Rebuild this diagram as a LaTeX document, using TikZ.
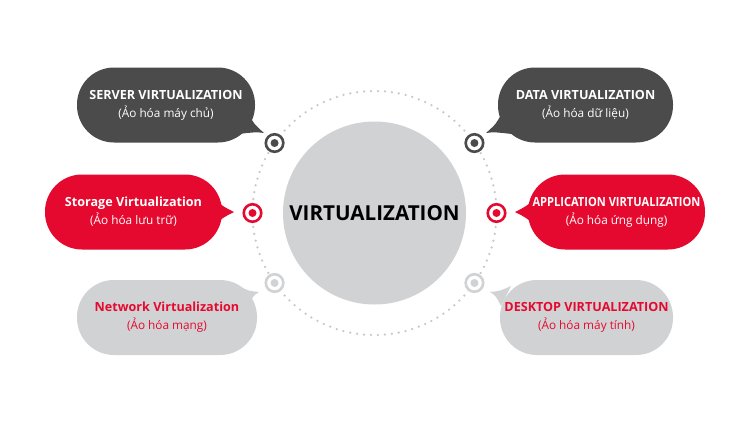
\documentclass[tikz,border=0pt]{standalone}
\usepackage{fontspec}
\usepackage{graphicx}
\setmainfont{Open Sans}
\usetikzlibrary{calc}
\definecolor{darkgrey}{HTML}{4B4B4B}
\definecolor{lightgrey}{HTML}{D1D2D4}
\definecolor{brandred}{HTML}{E6092F}
\definecolor{dotgrey}{HTML}{C8C8C8}
\newcommand{\headline}[1]{{\bfseries\fontsize{12.6}{18}\selectfont #1}}
\begin{document}
\begin{tikzpicture}[x=1pt,y=-1pt,
  bubble/.style={rectangle, rounded corners=37pt, minimum height=75pt,
    inner sep=0pt, align=center, font=\fontsize{11.8}{18}\selectfont},
  hub/.style={circle, fill=lightgrey, minimum size=183pt, inner sep=0pt,
    font=\bfseries\fontsize{20.6}{22}\selectfont, text=black},
  target/.style={circle, draw=#1, line width=2.6pt, fill=white,
    minimum size=17.5pt, inner sep=0pt},
  core/.style={circle, fill=#1, minimum size=8pt, inner sep=0pt}]
\useasboundingbox (0,0) rectangle (749,421);
\fill[white] (0,0) rectangle (749,421);

% dotted orbit around the hub
\coordinate (o) at (374.5,213);
\draw[dotgrey, line width=2.5pt, line cap=round,
      dash pattern=on 0pt off 6.9686pt] (o) circle[radius=122pt];

% central hub
\node[hub] (hub) at (o) {VIRTUALIZATION};

% markers on the orbit
\foreach \n/\a/\c in {mserver/145/darkgrey, mstorage/180/brandred,
                      mnetwork/215/lightgrey, mdata/35/darkgrey,
                      mapp/0/brandred, mdesktop/-35/lightgrey}{
  \node[target=\c] (\n) at ($(o)+(\a:122 and -122)$) {};
  \node[core=\c] at (\n) {};
}

% speech bubbles with their pointers
\fill[darkgrey] (248,113) .. controls (254,124) .. (264,133)
   .. controls (256,132) .. (238,134) -- cycle;
\node[bubble, fill=darkgrey, text=white, minimum width=178pt] (server) at (166,105)
  {\headline{SERVER VIRTUALIZATION}\\(Ảo hóa máy chủ)};

\fill[darkgrey] (502,113) .. controls (496,124) .. (486,133)
   .. controls (494,132) .. (512,134) -- cycle;
\node[bubble, fill=darkgrey, text=white, minimum width=175pt] (data) at (585.5,105)
  {\headline{DATA VIRTUALIZATION}\\(Ảo hóa dữ liệu)};

\fill[brandred] (214,199) .. controls (224,207) .. (234,212)
   .. controls (224,217) .. (214,225) -- cycle;
\node[bubble, fill=brandred, text=white, minimum width=177pt] (storage) at (133.5,212)
  {\headline{Storage Virtualization}\\(Ảo hóa lưu trữ)};

\fill[brandred] (535,199) .. controls (525,207) .. (515,212)
   .. controls (525,217) .. (535,225) -- cycle;
\node[bubble, fill=brandred, text=white, minimum width=177pt] (app) at (616.5,212)
  {\scalebox{0.88}[1]{\headline{APPLICATION VIRTUALIZATION}}\\(Ảo hóa ứng dụng)};

\fill[lightgrey] (238,286) .. controls (249,291) .. (259,292)
   .. controls (253,296) .. (248,306) -- cycle;
\node[bubble, fill=lightgrey, text=brandred, minimum width=180pt] (network) at (167,317.5)
  {\headline{Network Virtualization}\\(Ảo hóa mạng)};

\fill[lightgrey] (511,286) .. controls (500,291) .. (490,292)
   .. controls (496,296) .. (501,306) -- cycle;
\node[bubble, fill=lightgrey, text=brandred, minimum width=173pt] (desktop) at (586.5,317.5)
  {\headline{DESKTOP VIRTUALIZATION}\\(Ảo hóa máy tính)};
\end{tikzpicture}
\end{document}
